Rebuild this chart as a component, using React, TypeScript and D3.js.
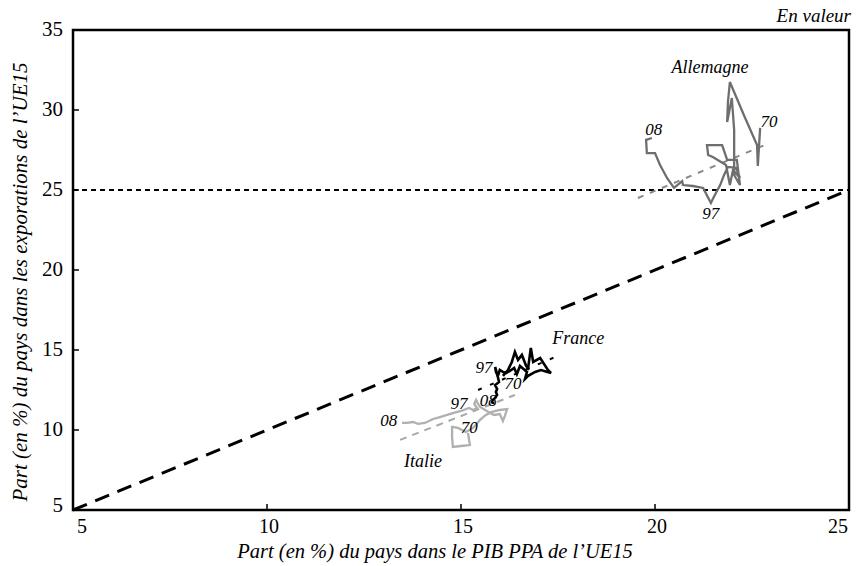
import React from "react";
import * as d3 from "d3";

const W = 857;
const H = 566;

// Years 1970..2008 for each path
const germanyX = [22.71,22.65,22.63,22.29,21.93,21.88,21.86,21.98,22.04,22.04,22.19,22.11,21.86,21.73,21.34,21.37,21.49,21.83,21.93,22.01,22.19,22.09,21.88,21.78,21.68,21.57,21.49,21.44,21.24,20.98,20.72,20.70,20.49,20.31,20.13,20.0,19.79,19.77,19.92];
const germanyY = [28.88,26.5,27.81,29.69,31.75,30.5,29.25,30.75,28.75,25.94,25.31,26.88,26.88,27.81,27.81,27.19,27.06,26.56,25.31,26.25,25.75,26.38,26.44,25.94,25.31,24.81,24.44,24.19,25.13,25.25,25.31,25.56,25.13,25.75,26.56,27.31,27.31,28.13,28.25];

const franceX = [16.08,16.21,16.31,16.39,16.47,16.57,16.68,16.73,16.80,16.86,17.04,17.24,17.32,17.06,16.91,16.73,16.65,16.70,16.52,16.44,16.37,16.26,16.16,16.08,16.0,15.95,15.90,15.88,15.95,15.98,15.88,15.93,15.90,15.93,15.88,15.82,15.80,15.82,15.82];
const franceY = [13.38,13.75,14.25,14.88,14.38,14.69,14.0,13.88,15.13,14.25,14.5,13.75,13.56,13.75,13.63,13.38,13.19,13.63,14.0,13.5,13.88,13.69,13.56,13.63,13.75,13.38,13.63,13.94,13.31,13.0,12.81,12.56,12.38,12.19,12.0,11.88,11.75,11.69,11.63];

const italyX = [15.18,15.23,15.0,14.79,14.77,14.77,14.92,15.13,15.31,15.49,15.64,15.80,16.0,16.19,16.13,16.08,16.0,15.85,15.75,15.62,15.54,15.49,15.44,15.39,15.34,15.41,15.31,15.21,15.0,14.79,14.64,14.46,14.28,14.07,13.89,13.76,13.61,13.53,13.48];
const italyY = [9.81,9.06,9.0,8.94,9.56,10.19,10.13,9.88,10.13,10.63,10.94,11.13,11.25,11.31,10.88,10.56,11.0,10.94,11.06,11.25,11.38,11.44,11.63,11.88,11.63,11.38,11.25,11.38,11.19,11.06,10.94,10.81,10.69,10.44,10.38,10.5,10.44,10.44,10.44];

// Trend lines [x0, y0, x1, y1]
const germanyTrend = [19.56, 24.5, 22.96, 27.94];
const franceTrend = [15.44, 12.5, 17.55, 14.69];
const italyTrend = [13.43, 9.38, 16.39, 12.19];

const xTicks = [5, 10, 15, 20, 25];
const yTicks = [5, 10, 15, 20, 25, 30, 35];

// Annotations: text, x, y (data coords of baseline centre)
const labelTexts = ["Allemagne", "08", "70", "97", "France", "97", "70", "08", "Italie", "08", "97", "70"];
const labelX = [21.42, 19.97, 22.94, 21.44, 18.02, 15.59, 16.34, 15.70, 14.02, 13.14, 14.95, 15.21];
const labelY = [32.31, 28.44, 28.94, 23.19, 15.38, 13.56, 12.56, 11.5, 7.69, 10.25, 11.31, 9.81];
const labelBig = [true, false, false, false, true, false, false, false, true, false, false, false];

const xTitle = "Part (en %) du pays dans le PIB PPA de l\u2019UE15";
const yTitle = "Part (en %) du pays dans les exporations de l\u2019UE15";
const cornerNote = "En valeur";

const SERIF = "'Liberation Serif', serif";

export default function App() {
  const left = 73, right = 849, top = 30, bottom = 510;
  const x = d3.scaleLinear().domain([5, 25]).range([left, right]);
  const y = d3.scaleLinear().domain([5, 35]).range([bottom, top]);
  const line = d3.line<[number, number]>().x((d) => x(d[0])).y((d) => y(d[1]));

  const series = [
    { xs: germanyX, ys: germanyY, trend: germanyTrend, color: "#6e6e6e", tcolor: "#8a8a8a", dash: "6,7", w: 2.3 },
    { xs: franceX, ys: franceY, trend: franceTrend, color: "#000000", tcolor: "#000000", dash: "4,9", w: 2.6 },
    { xs: italyX, ys: italyY, trend: italyTrend, color: "#b0b0b0", tcolor: "#a8a8a8", dash: "7,6", w: 2.3 },
  ];

  const ts = { fontFamily: SERIF } as React.CSSProperties;
  const its = { fontFamily: SERIF, fontStyle: "italic" } as React.CSSProperties;

  return (
    <svg width={W} height={H} style={{ position: "absolute", left: 0, top: 0, background: "#fff" }}>
      {/* reference lines */}
      <line x1={x(5)} y1={y(25)} x2={x(25)} y2={y(25)} stroke="#000" strokeWidth={2} strokeDasharray="5,4" />
      <line x1={x(5)} y1={y(5)} x2={x(25)} y2={y(25)} stroke="#000" strokeWidth={3} strokeDasharray="15,9" />

      {series.map((s, i) => (
        <g key={i}>
          <path
            d={line([[s.trend[0], s.trend[1]], [s.trend[2], s.trend[3]]]) || ""}
            stroke={s.tcolor}
            strokeWidth={2}
            strokeDasharray={s.dash}
            fill="none"
          />
          <path
            d={line(s.xs.map((v, k) => [v, s.ys[k]] as [number, number])) || ""}
            stroke={s.color}
            strokeWidth={s.w}
            fill="none"
            strokeLinejoin="miter"
          />
        </g>
      ))}

      {/* frame */}
      <rect x={left} y={top} width={right - left} height={bottom - top} fill="none" stroke="#000" strokeWidth={2.5} />

      {/* ticks */}
      {xTicks.slice(1, -1).map((t) => (
        <line key={"xt" + t} x1={x(t)} x2={x(t)} y1={bottom} y2={bottom - 6} stroke="#000" strokeWidth={1.5} />
      ))}
      {yTicks.slice(1, -1).map((t) => (
        <line key={"yt" + t} x1={left} x2={left + 6} y1={y(t)} y2={y(t)} stroke="#000" strokeWidth={1.5} />
      ))}

      {/* tick labels */}
      {xTicks.map((t, i) => (
        <text
          key={"xl" + t}
          x={i === 0 ? x(t) + 4 : i === xTicks.length - 1 ? x(t) - 1 : x(t) + 2}
          y={bottom + 23}
          fontSize={20}
          style={ts}
          textAnchor={i === 0 ? "start" : i === xTicks.length - 1 ? "end" : "middle"}
        >
          {t}
        </text>
      ))}
      {yTicks.map((t, i) => (
        <text
          key={"yl" + t}
          x={left - 10}
          y={y(t) + (i === 0 ? 2 : 6)}
          fontSize={21}
          style={ts}
          textAnchor="end"
        >
          {t}
        </text>
      ))}

      {/* annotations */}
      {labelTexts.map((t, i) => (
        <text
          key={"an" + i}
          x={x(labelX[i])}
          y={y(labelY[i])}
          fontSize={labelBig[i] ? 18 : 17}
          style={its}
          textAnchor="middle"
        >
          {t}
        </text>
      ))}

      {/* titles */}
      <text x={right + 2} y={22} fontSize={19} style={its} textAnchor="end">
        {cornerNote}
      </text>
      <text x={(left + right) / 2 - 26} y={558} fontSize={20.5} style={its} textAnchor="middle">
        {xTitle}
      </text>
      <text
        transform={`translate(27, ${(top + bottom) / 2 + 12}) rotate(-90)`}
        fontSize={21}
        style={its}
        textAnchor="middle"
      >
        {yTitle}
      </text>
    </svg>
  );
}
